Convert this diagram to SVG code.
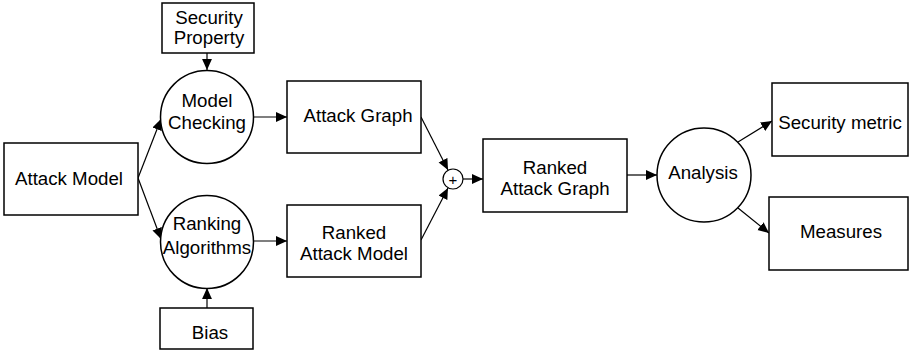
<svg xmlns="http://www.w3.org/2000/svg" width="910" height="351" viewBox="0 0 910 351">
<style>
.box{fill:#fff;stroke:#000;stroke-width:1.5}
.t{font-family:"Liberation Sans",Arial,sans-serif;font-size:18.7px;fill:#000;text-anchor:middle}
.c{fill:none;stroke:#000;stroke-width:1.2}
</style>
<defs>
<marker id="ah" viewBox="0 0 10 10" refX="10" refY="5" markerWidth="11" markerHeight="11" markerUnits="userSpaceOnUse" orient="auto">
<path d="M0,0.5 L10,5 L0,9.5 Z" fill="#000"/>
</marker>
</defs>
<rect width="910" height="351" fill="#fff"/>
<g id="connectors">
<line class="c" x1="207" y1="53" x2="207" y2="70" marker-end="url(#ah)"/>
<line class="c" x1="138" y1="178" x2="161" y2="119" marker-end="url(#ah)"/>
<line class="c" x1="138" y1="178" x2="161" y2="239" marker-end="url(#ah)"/>
<line class="c" x1="207" y1="308" x2="207" y2="288" marker-end="url(#ah)"/>
<line class="c" x1="253" y1="117" x2="287" y2="117" marker-end="url(#ah)"/>
<line class="c" x1="253" y1="241" x2="287" y2="241" marker-end="url(#ah)"/>
<line class="c" x1="421" y1="117" x2="448" y2="170" marker-end="url(#ah)"/>
<line class="c" x1="421" y1="240" x2="448" y2="188" marker-end="url(#ah)"/>
<line class="c" x1="463" y1="179" x2="483" y2="179" marker-end="url(#ah)"/>
<line class="c" x1="627" y1="175" x2="657" y2="175" marker-end="url(#ah)"/>
<line class="c" x1="738" y1="142" x2="772" y2="121" marker-end="url(#ah)"/>
<line class="c" x1="738" y1="208" x2="769" y2="233" marker-end="url(#ah)"/>
</g>
<g id="security-property"><rect class="box" x="162" y="3" width="92" height="50"/><text class="t" x="209" y="24">Security</text><text class="t" x="209" y="44">Property</text></g>
<g id="model-checking"><circle class="box" cx="207" cy="117" r="46.5"/><text class="t" x="207" y="107">Model</text><text class="t" x="207" y="129">Checking</text></g>
<g id="attack-model"><rect class="box" x="4" y="143" width="134" height="72"/><text class="t" x="69" y="185">Attack Model</text></g>
<g id="ranking-algorithms"><circle class="box" cx="207" cy="242" r="46.5"/><text class="t" x="207" y="230">Ranking</text><text class="t" x="207" y="254">Algorithms</text></g>
<g id="bias"><rect class="box" x="160" y="308" width="93" height="41"/><text class="t" x="210" y="339">Bias</text></g>
<g id="attack-graph"><rect class="box" x="287" y="81" width="134" height="72"/><text class="t" x="358" y="122">Attack Graph</text></g>
<g id="ranked-attack-model"><rect class="box" x="287" y="205" width="134" height="72"/><text class="t" x="354" y="239">Ranked</text><text class="t" x="354" y="260">Attack Model</text></g>
<g id="plus"><circle class="box" cx="453" cy="179" r="10" style="stroke-width:1.2"/><text x="453" y="185" style="font-family:'Liberation Sans',Arial,sans-serif;font-size:15px;text-anchor:middle">+</text></g>
<g id="ranked-attack-graph"><rect class="box" x="483" y="139" width="144" height="73"/><text class="t" x="555" y="174">Ranked</text><text class="t" x="555" y="195">Attack Graph</text></g>
<g id="analysis"><circle class="box" cx="704" cy="175" r="47"/><text class="t" x="703" y="179">Analysis</text></g>
<g id="security-metric"><rect class="box" x="772" y="83" width="136" height="73"/><text class="t" x="840" y="129">Security metric</text></g>
<g id="measures"><rect class="box" x="769" y="197" width="139" height="73"/><text class="t" x="841" y="238">Measures</text></g>
</svg>
